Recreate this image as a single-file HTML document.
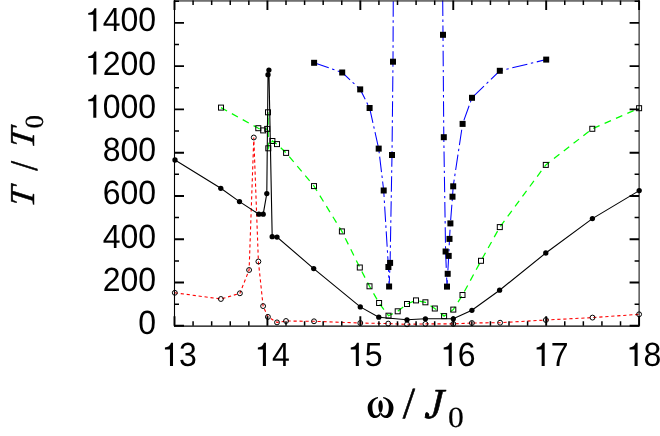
<!DOCTYPE html>
<html><head><meta charset="utf-8"><title>T/T0 vs omega/J0</title>
<style>html,body{margin:0;padding:0;background:#fff;overflow:hidden}body{width:660px;height:436px;position:relative;font-family:"Liberation Sans",sans-serif}</style></head>
<body>
<svg width="660" height="436" viewBox="0 0 660 436" style="position:absolute;left:0;top:0;will-change:transform" text-rendering="geometricPrecision">
<rect width="660" height="436" fill="#fff"/>
<polyline points="174.8,292.8 220.9,299.0 239.9,293.3 249.1,270.0 253.8,137.5 258.4,261.5 263.1,306.1 267.9,316.9 277.0,322.4 286.0,321.0 314.0,321.3 360.3,323.0 388.2,323.6 407.0,324.3 425.4,323.9 453.3,323.9 471.9,323.0 500.1,322.7 545.9,320.0 592.5,317.6 639.1,314.3" fill="none" stroke="#ff0000" stroke-width="1.1" stroke-dasharray="3.2 2.8"/>
<polyline points="221.0,107.6 258.3,128.2 263.2,130.4 267.2,128.9 268.0,112.3 268.3,148.3 272.4,141.0 277.0,144.1 286.1,152.9 314.0,186.1 341.9,231.4 359.8,267.5 369.5,286.3 379.1,303.0 388.5,315.7 397.7,311.3 407.0,304.0 416.0,300.4 425.4,302.3 434.8,308.5 444.1,316.1 453.3,309.6 462.5,295.0 481.0,260.8 499.8,227.1 545.8,164.9 592.3,128.8 639.1,108.2" fill="none" stroke="#00ff00" stroke-width="1.25" stroke-dasharray="6.9 5.5"/>
<polyline points="314.1,62.8 342.2,72.5 360.2,89.4 369.6,108.0 378.7,148.6 383.7,190.5 388.4,267.0 389.1,286.5 390.1,262.9 392.0,155.0 393.0,61.7 393.3,-12.0" fill="none" stroke="#0000ff" stroke-width="1.05" stroke-dasharray="15.5 3.5 2.5 3.5"/>
<polyline points="442.6,-12.0 443.0,34.8 443.8,137.2 445.6,251.5 447.0,286.6 447.7,273.8 448.7,255.9 449.5,238.9 450.4,223.4 452.5,196.7 453.2,186.3 462.6,123.9 472.0,97.8 499.8,70.8 546.2,59.6" fill="none" stroke="#0000ff" stroke-width="1.05" stroke-dasharray="15.5 3.6 2.4 3.7" stroke-dashoffset="12.8"/>
<polyline points="175.0,160.0 220.8,188.3 239.5,201.6 258.9,214.2 263.2,214.2 266.8,193.6 268.0,74.7 268.9,70.1 272.2,236.7 277.0,237.1 313.7,268.6 360.3,306.9 378.8,317.2 407.0,319.8 425.4,318.8 453.3,318.8 471.9,310.3 499.6,290.2 545.8,253.0 592.4,218.6 639.2,190.6" fill="none" stroke="#000" stroke-width="1.1"/>
<circle cx="174.8" cy="292.8" r="2.45" fill="none" stroke="#000" stroke-width="1"/>
<circle cx="220.9" cy="299.0" r="2.45" fill="none" stroke="#000" stroke-width="1"/>
<circle cx="239.9" cy="293.3" r="2.45" fill="none" stroke="#000" stroke-width="1"/>
<circle cx="249.1" cy="270.0" r="2.45" fill="none" stroke="#000" stroke-width="1"/>
<circle cx="253.8" cy="137.5" r="2.45" fill="none" stroke="#000" stroke-width="1"/>
<circle cx="258.4" cy="261.5" r="2.45" fill="none" stroke="#000" stroke-width="1"/>
<circle cx="263.1" cy="306.1" r="2.45" fill="none" stroke="#000" stroke-width="1"/>
<circle cx="267.9" cy="316.9" r="2.45" fill="none" stroke="#000" stroke-width="1"/>
<circle cx="277.0" cy="322.4" r="2.45" fill="none" stroke="#000" stroke-width="1"/>
<circle cx="286.0" cy="321.0" r="2.45" fill="none" stroke="#000" stroke-width="1"/>
<circle cx="314.0" cy="321.3" r="2.45" fill="none" stroke="#000" stroke-width="1"/>
<circle cx="360.3" cy="323.0" r="2.45" fill="none" stroke="#000" stroke-width="1"/>
<circle cx="388.2" cy="323.6" r="2.45" fill="none" stroke="#000" stroke-width="1"/>
<circle cx="407.0" cy="324.3" r="2.45" fill="none" stroke="#000" stroke-width="1"/>
<circle cx="425.4" cy="323.9" r="2.45" fill="none" stroke="#000" stroke-width="1"/>
<circle cx="453.3" cy="323.9" r="2.45" fill="none" stroke="#000" stroke-width="1"/>
<circle cx="471.9" cy="323.0" r="2.45" fill="none" stroke="#000" stroke-width="1"/>
<circle cx="500.1" cy="322.7" r="2.45" fill="none" stroke="#000" stroke-width="1"/>
<circle cx="545.9" cy="320.0" r="2.45" fill="none" stroke="#000" stroke-width="1"/>
<circle cx="592.5" cy="317.6" r="2.45" fill="none" stroke="#000" stroke-width="1"/>
<circle cx="639.1" cy="314.3" r="2.45" fill="none" stroke="#000" stroke-width="1"/>
<rect x="218.50" y="105.10" width="5.0" height="5.0" fill="none" stroke="#000" stroke-width="1"/>
<rect x="255.80" y="125.70" width="5.0" height="5.0" fill="none" stroke="#000" stroke-width="1"/>
<rect x="260.70" y="127.90" width="5.0" height="5.0" fill="none" stroke="#000" stroke-width="1"/>
<rect x="264.70" y="126.40" width="5.0" height="5.0" fill="none" stroke="#000" stroke-width="1"/>
<rect x="265.50" y="109.80" width="5.0" height="5.0" fill="none" stroke="#000" stroke-width="1"/>
<rect x="265.80" y="145.80" width="5.0" height="5.0" fill="none" stroke="#000" stroke-width="1"/>
<rect x="269.90" y="138.50" width="5.0" height="5.0" fill="none" stroke="#000" stroke-width="1"/>
<rect x="274.50" y="141.60" width="5.0" height="5.0" fill="none" stroke="#000" stroke-width="1"/>
<rect x="283.60" y="150.40" width="5.0" height="5.0" fill="none" stroke="#000" stroke-width="1"/>
<rect x="311.50" y="183.60" width="5.0" height="5.0" fill="none" stroke="#000" stroke-width="1"/>
<rect x="339.40" y="228.90" width="5.0" height="5.0" fill="none" stroke="#000" stroke-width="1"/>
<rect x="357.30" y="265.00" width="5.0" height="5.0" fill="none" stroke="#000" stroke-width="1"/>
<rect x="367.00" y="283.80" width="5.0" height="5.0" fill="none" stroke="#000" stroke-width="1"/>
<rect x="376.60" y="300.50" width="5.0" height="5.0" fill="none" stroke="#000" stroke-width="1"/>
<rect x="386.00" y="313.20" width="5.0" height="5.0" fill="none" stroke="#000" stroke-width="1"/>
<rect x="395.20" y="308.80" width="5.0" height="5.0" fill="none" stroke="#000" stroke-width="1"/>
<rect x="404.50" y="301.50" width="5.0" height="5.0" fill="none" stroke="#000" stroke-width="1"/>
<rect x="413.50" y="297.90" width="5.0" height="5.0" fill="none" stroke="#000" stroke-width="1"/>
<rect x="422.90" y="299.80" width="5.0" height="5.0" fill="none" stroke="#000" stroke-width="1"/>
<rect x="432.30" y="306.00" width="5.0" height="5.0" fill="none" stroke="#000" stroke-width="1"/>
<rect x="441.60" y="313.60" width="5.0" height="5.0" fill="none" stroke="#000" stroke-width="1"/>
<rect x="450.80" y="307.10" width="5.0" height="5.0" fill="none" stroke="#000" stroke-width="1"/>
<rect x="460.00" y="292.50" width="5.0" height="5.0" fill="none" stroke="#000" stroke-width="1"/>
<rect x="478.50" y="258.30" width="5.0" height="5.0" fill="none" stroke="#000" stroke-width="1"/>
<rect x="497.30" y="224.60" width="5.0" height="5.0" fill="none" stroke="#000" stroke-width="1"/>
<rect x="543.30" y="162.40" width="5.0" height="5.0" fill="none" stroke="#000" stroke-width="1"/>
<rect x="589.80" y="126.30" width="5.0" height="5.0" fill="none" stroke="#000" stroke-width="1"/>
<rect x="636.60" y="105.70" width="5.0" height="5.0" fill="none" stroke="#000" stroke-width="1"/>
<rect x="311.10" y="59.80" width="6.0" height="6.0" fill="#000"/>
<rect x="339.20" y="69.50" width="6.0" height="6.0" fill="#000"/>
<rect x="357.20" y="86.40" width="6.0" height="6.0" fill="#000"/>
<rect x="366.60" y="105.00" width="6.0" height="6.0" fill="#000"/>
<rect x="375.70" y="145.60" width="6.0" height="6.0" fill="#000"/>
<rect x="380.70" y="187.50" width="6.0" height="6.0" fill="#000"/>
<rect x="385.40" y="264.00" width="6.0" height="6.0" fill="#000"/>
<rect x="386.10" y="283.50" width="6.0" height="6.0" fill="#000"/>
<rect x="387.10" y="259.90" width="6.0" height="6.0" fill="#000"/>
<rect x="389.00" y="152.00" width="6.0" height="6.0" fill="#000"/>
<rect x="390.00" y="58.70" width="6.0" height="6.0" fill="#000"/>
<rect x="440.00" y="31.80" width="6.0" height="6.0" fill="#000"/>
<rect x="440.80" y="134.20" width="6.0" height="6.0" fill="#000"/>
<rect x="442.60" y="248.50" width="6.0" height="6.0" fill="#000"/>
<rect x="444.00" y="283.60" width="6.0" height="6.0" fill="#000"/>
<rect x="444.70" y="270.80" width="6.0" height="6.0" fill="#000"/>
<rect x="445.70" y="252.90" width="6.0" height="6.0" fill="#000"/>
<rect x="446.50" y="235.90" width="6.0" height="6.0" fill="#000"/>
<rect x="447.40" y="220.40" width="6.0" height="6.0" fill="#000"/>
<rect x="449.50" y="193.70" width="6.0" height="6.0" fill="#000"/>
<rect x="450.20" y="183.30" width="6.0" height="6.0" fill="#000"/>
<rect x="459.60" y="120.90" width="6.0" height="6.0" fill="#000"/>
<rect x="469.00" y="94.80" width="6.0" height="6.0" fill="#000"/>
<rect x="496.80" y="67.80" width="6.0" height="6.0" fill="#000"/>
<rect x="543.20" y="56.60" width="6.0" height="6.0" fill="#000"/>
<circle cx="175.0" cy="160.0" r="2.65" fill="#000"/>
<circle cx="220.8" cy="188.3" r="2.65" fill="#000"/>
<circle cx="239.5" cy="201.6" r="2.65" fill="#000"/>
<circle cx="258.9" cy="214.2" r="2.65" fill="#000"/>
<circle cx="263.2" cy="214.2" r="2.65" fill="#000"/>
<circle cx="266.8" cy="193.6" r="2.65" fill="#000"/>
<circle cx="268.0" cy="74.7" r="2.65" fill="#000"/>
<circle cx="268.9" cy="70.1" r="2.65" fill="#000"/>
<circle cx="272.2" cy="236.7" r="2.65" fill="#000"/>
<circle cx="277.0" cy="237.1" r="2.65" fill="#000"/>
<circle cx="313.7" cy="268.6" r="2.65" fill="#000"/>
<circle cx="360.3" cy="306.9" r="2.65" fill="#000"/>
<circle cx="378.8" cy="317.2" r="2.65" fill="#000"/>
<circle cx="407.0" cy="319.8" r="2.65" fill="#000"/>
<circle cx="425.4" cy="318.8" r="2.65" fill="#000"/>
<circle cx="453.3" cy="318.8" r="2.65" fill="#000"/>
<circle cx="471.9" cy="310.3" r="2.65" fill="#000"/>
<circle cx="499.6" cy="290.2" r="2.65" fill="#000"/>
<circle cx="545.8" cy="253.0" r="2.65" fill="#000"/>
<circle cx="592.4" cy="218.6" r="2.65" fill="#000"/>
<circle cx="639.2" cy="190.6" r="2.65" fill="#000"/>
<path d="M174.5 0V326.70000000000005" fill="none" stroke="#000" stroke-width="1.1"/>
<path d="M174.0 326.1H639.6" fill="none" stroke="#000" stroke-width="1.3"/>
<path d="M639.1 0V326.1" fill="none" stroke="#000" stroke-width="1"/>
<path d="M174.5 0.95H639.1" fill="none" stroke="#000" stroke-width="1"/>
<path d="M174.50 325.8v-9.5M174.50 0.6v9.5M267.42 325.8v-9.5M267.42 0.6v9.5M360.34 325.8v-9.5M360.34 0.6v9.5M453.26 325.8v-9.5M453.26 0.6v9.5M546.18 325.8v-9.5M546.18 0.6v9.5M639.10 325.8v-9.5M639.10 0.6v9.5M174.5 325.80h9.5M639.1 325.80h-9.5M174.5 282.52h9.5M639.1 282.52h-9.5M174.5 239.24h9.5M639.1 239.24h-9.5M174.5 195.96h9.5M639.1 195.96h-9.5M174.5 152.68h9.5M639.1 152.68h-9.5M174.5 109.40h9.5M639.1 109.40h-9.5M174.5 66.12h9.5M639.1 66.12h-9.5M174.5 22.84h9.5M639.1 22.84h-9.5" fill="none" stroke="#000" stroke-width="1.9"/>
<path d="M193.08 325.8v-4.5M193.08 0.6v4.5M211.67 325.8v-4.5M211.67 0.6v4.5M230.25 325.8v-4.5M230.25 0.6v4.5M248.84 325.8v-4.5M248.84 0.6v4.5M286.00 325.8v-4.5M286.00 0.6v4.5M304.59 325.8v-4.5M304.59 0.6v4.5M323.17 325.8v-4.5M323.17 0.6v4.5M341.76 325.8v-4.5M341.76 0.6v4.5M378.92 325.8v-4.5M378.92 0.6v4.5M397.51 325.8v-4.5M397.51 0.6v4.5M416.09 325.8v-4.5M416.09 0.6v4.5M434.68 325.8v-4.5M434.68 0.6v4.5M471.84 325.8v-4.5M471.84 0.6v4.5M490.43 325.8v-4.5M490.43 0.6v4.5M509.01 325.8v-4.5M509.01 0.6v4.5M527.60 325.8v-4.5M527.60 0.6v4.5M564.76 325.8v-4.5M564.76 0.6v4.5M583.35 325.8v-4.5M583.35 0.6v4.5M601.93 325.8v-4.5M601.93 0.6v4.5M620.52 325.8v-4.5M620.52 0.6v4.5M174.5 304.16h4.5M639.1 304.16h-4.5M174.5 260.88h4.5M639.1 260.88h-4.5M174.5 217.60h4.5M639.1 217.60h-4.5M174.5 174.32h4.5M639.1 174.32h-4.5M174.5 131.04h4.5M639.1 131.04h-4.5M174.5 87.76h4.5M639.1 87.76h-4.5M174.5 44.48h4.5M639.1 44.48h-4.5M174.5 1.20h4.5M639.1 1.20h-4.5" fill="none" stroke="#000" stroke-width="1.5"/>
<g font-family="Liberation Sans, sans-serif" font-size="32" fill="#000">
<path transform="translate(161.61 365.90) scale(0.03250 -0.03250)" d="M257 0V507H102V566C196 572 262 612 292 709H351V0Z" fill="#000"/>
<text transform="translate(179.0 365.9) scale(1 1.05)">3</text>
<path transform="translate(254.53 365.90) scale(0.03250 -0.03250)" d="M257 0V507H102V566C196 572 262 612 292 709H351V0Z" fill="#000"/>
<text transform="translate(271.9 365.9) scale(1 1.05)">4</text>
<path transform="translate(347.45 365.90) scale(0.03250 -0.03250)" d="M257 0V507H102V566C196 572 262 612 292 709H351V0Z" fill="#000"/>
<text transform="translate(364.8 365.9) scale(1 1.05)">5</text>
<path transform="translate(440.37 365.90) scale(0.03250 -0.03250)" d="M257 0V507H102V566C196 572 262 612 292 709H351V0Z" fill="#000"/>
<text transform="translate(457.8 365.9) scale(1 1.05)">6</text>
<path transform="translate(533.29 365.90) scale(0.03250 -0.03250)" d="M257 0V507H102V566C196 572 262 612 292 709H351V0Z" fill="#000"/>
<text transform="translate(550.7 365.9) scale(1 1.05)">7</text>
<path transform="translate(626.21 365.90) scale(0.03250 -0.03250)" d="M257 0V507H102V566C196 572 262 612 292 709H351V0Z" fill="#000"/>
<text transform="translate(643.6 365.9) scale(1 1.05)">8</text>
<text transform="translate(156.1 334.2) scale(1 1.05)" text-anchor="end">0</text>
<text transform="translate(156.1 291.0) scale(1 1.05)" text-anchor="end">200</text>
<text transform="translate(156.1 247.7) scale(1 1.05)" text-anchor="end">400</text>
<text transform="translate(156.1 204.4) scale(1 1.05)" text-anchor="end">600</text>
<text transform="translate(156.1 161.1) scale(1 1.05)" text-anchor="end">800</text>
<path transform="translate(84.93 117.85) scale(0.03250 -0.03250)" d="M257 0V507H102V566C196 572 262 612 292 709H351V0Z" fill="#000"/>
<text transform="translate(156.1 117.9) scale(1 1.05)" text-anchor="end">000</text>
<path transform="translate(84.93 74.57) scale(0.03250 -0.03250)" d="M257 0V507H102V566C196 572 262 612 292 709H351V0Z" fill="#000"/>
<text transform="translate(156.1 74.6) scale(1 1.05)" text-anchor="end">200</text>
<path transform="translate(84.93 31.29) scale(0.03250 -0.03250)" d="M257 0V507H102V566C196 572 262 612 292 709H351V0Z" fill="#000"/>
<text transform="translate(156.1 31.3) scale(1 1.05)" text-anchor="end">400</text>
</g>
<path transform="translate(364 393) scale(0.06427)" d="M218 61C120 78 57 150 57 228C57 320 105 389 172 389C215 389 250 362 262 318L250 288C240 326 215 350 187 350C147 350 130 290 130 215C130 152 156 100 218 80ZM298 61C396 78 459 150 459 228C459 320 411 389 344 389C301 389 266 362 254 318L266 288C276 326 301 350 329 350C369 350 386 290 386 215C386 152 360 100 298 80ZM257 113C238 113 225 160 223 205C223 250 240 290 250 320L257 336L266 320C278 290 293 250 293 205C291 160 278 113 257 113Z" fill="#000"/>
<text transform="translate(33.76 207.54) rotate(-90) scale(0.953 0.9699) skewX(-8)" font-family="Liberation Serif, serif" font-size="36" font-style="italic" stroke="#000" stroke-width="0.5" stroke-linejoin="round" fill="#000">T</text>
<text transform="translate(36.82 170.85) rotate(-90) scale(0.9905 1.0883)" font-family="Liberation Serif, serif" font-size="36" stroke="#000" stroke-width="0.4" stroke-linejoin="round" fill="#000">/</text>
<text transform="translate(33.76 148.64) rotate(-90) scale(0.953 0.9699) skewX(-8)" font-family="Liberation Serif, serif" font-size="36" font-style="italic" stroke="#000" stroke-width="0.5" stroke-linejoin="round" fill="#000">T</text>
<text transform="translate(42.62 128.5) rotate(-90) scale(1.0311 1.0085)" font-family="Liberation Serif, serif" font-size="26" stroke="#000" stroke-width="0.2" stroke-linejoin="round" fill="#000">0</text>
<text transform="translate(402.67 418.23) scale(1.0779 1.0798)" font-family="Liberation Serif, serif" font-size="41" stroke="#000" stroke-width="0.5" stroke-linejoin="round" fill="#000">/</text>
<text transform="translate(424.32 417.92) scale(1.0081 1.0404) skewX(-4)" font-family="Liberation Serif, serif" font-size="41" font-style="italic" stroke="#000" stroke-width="0.6" stroke-linejoin="round" fill="#000">J</text>
<text transform="translate(448.05 427.43) scale(1.0538 0.9767)" font-family="Liberation Serif, serif" font-size="30" stroke="#000" stroke-width="0.2" stroke-linejoin="round" fill="#000">0</text>
<circle cx="427.2" cy="414.9" r="2.1" fill="#000"/>
</svg>
</body></html>
